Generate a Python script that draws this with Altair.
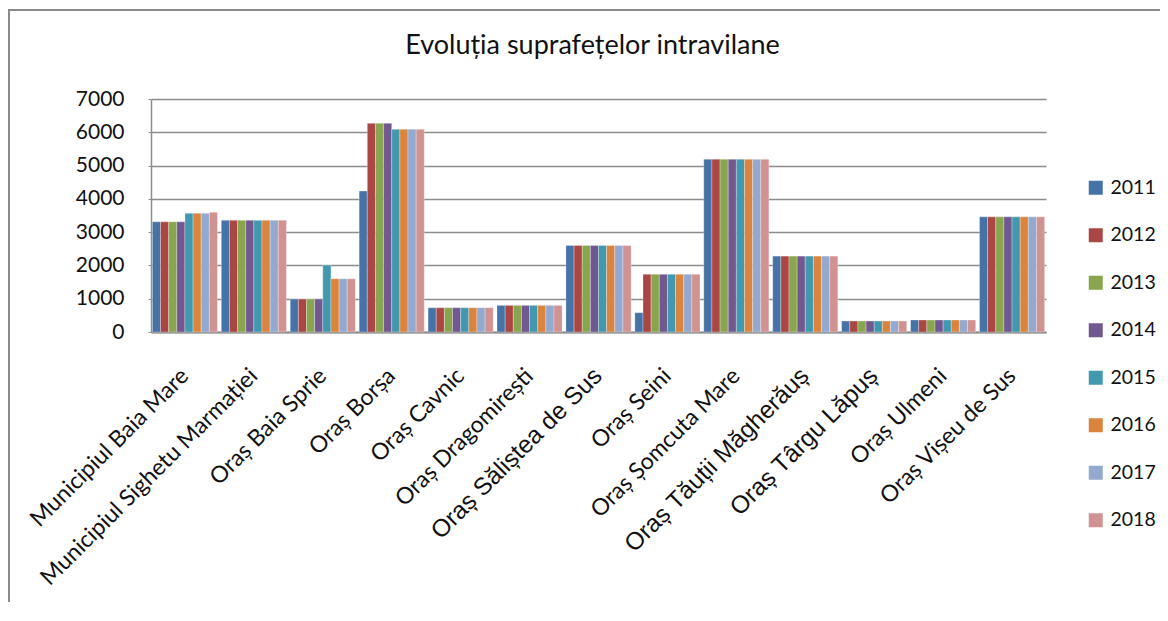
import altair as alt
import pandas as pd

years = ["2011", "2012", "2013", "2014", "2015", "2016", "2017", "2018"]
towns = [
    "Municipiul Baia Mare",
    "Municipiul Sighetu Marmației",
    "Oraș Baia Sprie",
    "Oraș Borșa",
    "Oraș Cavnic",
    "Oraș Dragomirești",
    "Oraș Săliștea de Sus",
    "Oraș Seini",
    "Oraș Șomcuta Mare",
    "Oraș Tăuții Măgherăuș",
    "Oraș Târgu Lăpuș",
    "Oraș Ulmeni",
    "Oraș Vișeu de Sus",
]
baia_mare = [3310, 3310, 3310, 3310, 3565, 3565, 3565, 3600]
sighetu = [3355, 3355, 3355, 3355, 3355, 3355, 3355, 3355]
baia_sprie = [990, 990, 990, 990, 2010, 1600, 1600, 1600]
borsa = [4235, 6270, 6270, 6270, 6090, 6090, 6090, 6090]
cavnic = [730, 730, 730, 730, 730, 730, 730, 730]
dragomiresti = [800, 800, 800, 800, 800, 800, 800, 800]
salistea = [2600, 2600, 2600, 2600, 2600, 2600, 2600, 2600]
seini = [580, 1735, 1735, 1735, 1735, 1735, 1735, 1735]
somcuta = [5190, 5190, 5190, 5190, 5190, 5190, 5190, 5190]
tautii = [2280, 2280, 2280, 2280, 2280, 2280, 2280, 2280]
targu = [330, 330, 330, 330, 330, 330, 330, 330]
ulmeni = [360, 360, 360, 360, 360, 360, 360, 360]
viseu = [3460, 3460, 3460, 3460, 3460, 3460, 3460, 3460]
colors = ["#4572A7", "#AA4643", "#89A54E", "#71588F", "#4198AF", "#DB843D", "#93A9CF", "#D19392"]
arial_labels = ["Oraș Săliștea de Sus", "Oraș Tăuții Măgherăuș", "Oraș Târgu Lăpuș"]

series = [baia_mare, sighetu, baia_sprie, borsa, cavnic, dragomiresti, salistea,
          seini, somcuta, tautii, targu, ulmeni, viseu]
rows = []
for town, vals in zip(towns, series):
    for y, v in zip(years, vals):
        rows.append({"town": town, "year": y, "value": v})
df = pd.DataFrame(rows)

test = " || ".join([f"datum.value == '{t}'" for t in arial_labels])

bars = alt.Chart(df).mark_bar(stroke="white", strokeWidth=0.3).encode(
    x=alt.X("town:N", sort=towns, title=None,
            scale=alt.Scale(paddingInner=0.055, paddingOuter=0.02),
            axis=alt.Axis(labelAngle=-45, labelAlign="right", labelBaseline="middle",
                          labelPadding=40, ticks=False, domainColor="#8c8c8c", domainWidth=2,
                          labelColor="#111111",
                          labelFontSize={"condition": {"test": test, "value": 24.5}, "value": 23},
                          labelFont={"condition": {"test": test, "value": "Liberation Sans"}, "value": "Lato"},
                          labelOverlap=False, labelLimit=400, grid=False)),
    xOffset=alt.XOffset("year:N", sort=years),
    y=alt.Y("value:Q", title=None,
            scale=alt.Scale(domain=[0, 7000]),
            axis=alt.Axis(values=[0, 1000, 2000, 3000, 4000, 5000, 6000, 7000], format="d",
                          labelFont="Lato", labelFontSize=21, labelColor="#111111",
                          labelPadding=24, tickSize=3, tickColor="#8c8c8c",
                          domainColor="#8c8c8c", domainWidth=1.5,
                          gridColor="#8c8c8c", gridWidth=1.5)),
    color=alt.Color("year:N", sort=years,
                    scale=alt.Scale(domain=years, range=colors),
                    legend=alt.Legend(title=None, orient="none", legendX=935, legendY=79,
                                      symbolType="square", symbolSize=196, symbolStrokeWidth=0,
                                      labelFont="Lato", labelFontSize=19.5, labelColor="#111111",
                                      labelOffset=5, rowPadding=26.5, padding=0)),
)

frame = alt.Chart(pd.DataFrame({"a": [0]})).mark_rect(
    fill=None, stroke="#8a8a8a", strokeWidth=2
).encode(x=alt.value(-142), x2=alt.value(1200), y=alt.value(-89), y2=alt.value(700))

chart = alt.layer(frame, bars).properties(
    width=895, height=233,
    title=alt.TitleParams("Evoluția suprafețelor intravilane", font="Lato", fontSize=27,
                          fontWeight="normal", color="#111111", anchor="middle",
                          baseline="alphabetic", frame="group", dx=-6, offset=-72),
    autosize=alt.AutoSizeParams(type="none"),
    padding={"left": 143, "top": 91, "right": 114, "bottom": 270},
).configure_view(stroke=None)

chart.save("out.html", embed_options={"renderer": "svg", "actions": False})
